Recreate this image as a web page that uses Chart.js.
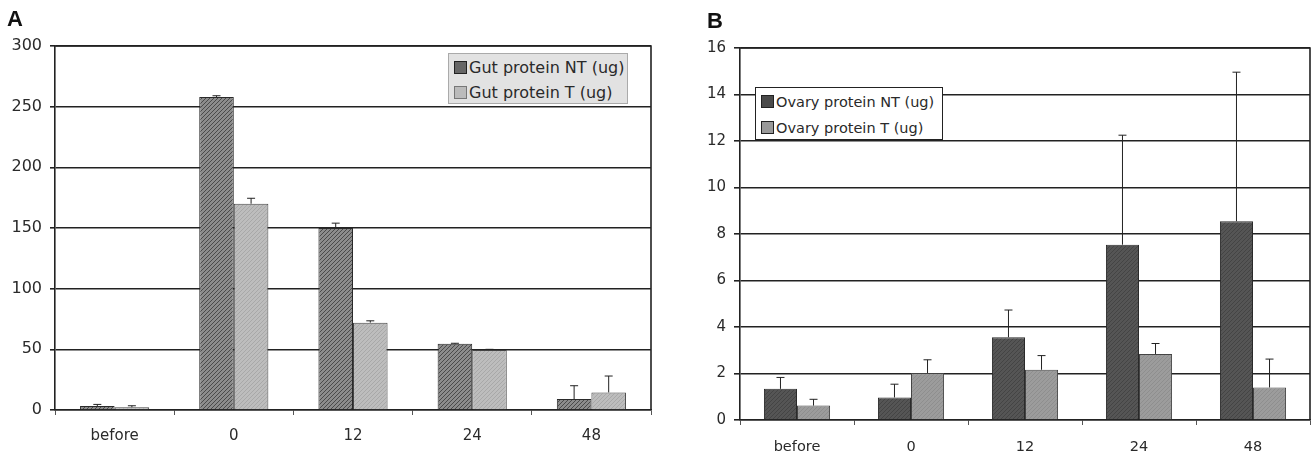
<!DOCTYPE html>
<html>
<head>
<meta charset="utf-8">
<script src="https://cdn.jsdelivr.net/npm/chart.js"></script>
<style>
  body { margin: 0; background: #fff; width: 1316px; height: 456px; position: relative; overflow: hidden; font-family: "DejaVu Sans", sans-serif; }
  .panel { position: absolute; top: 0; height: 456px; }
  .letter { position: absolute; font: bold 22px "Liberation Sans", Arial, sans-serif; color: #111; }
  .legend { position: absolute; box-sizing: border-box; color: #2a2a2a; padding: 1px 0 0 5px; white-space: nowrap; }
  .legend span.box { display: inline-block; width: 11px; height: 11px; border: 1px solid #222; margin-right: 2px; vertical-align: -1px; }
</style>
</head>
<body>
<div class="panel" style="left:0;width:660px"><canvas id="chartA" width="660" height="456"></canvas></div>
<div class="panel" style="left:660px;width:656px"><canvas id="chartB" width="656" height="456"></canvas></div>

<div class="letter" style="left:7px;top:6px">A</div>
<div class="letter" style="left:707px;top:8px">B</div>

<div class="legend" style="left:448px;top:53px;width:180px;height:51px;font-size:16px;line-height:25px;background:#e2e2e2;border:1px solid #aaa">
  <div><span class="box" style="background:#666"></span>Gut protein NT (ug)</div>
  <div><span class="box" style="background:#bbb;border-color:#777"></span>Gut protein T (ug)</div>
</div>
<div class="legend" style="left:755px;top:87px;width:188px;height:53px;font-size:14.5px;line-height:26px;background:#fff;border:1.5px solid #222">
  <div><span class="box" style="background:#4a4a4a"></span>Ovary protein NT (ug)</div>
  <div><span class="box" style="background:#999"></span>Ovary protein T (ug)</div>
</div>

<script>
// categories (hours)
const categories = ['before', '0', '12', '24', '48'];

// panel A: gut protein
const gutNT = [3.3, 258, 150, 54.5, 9];
const gutNTErr = [1.3, 1, 4, 0.5, 11];
const gutT = [2.3, 170, 72, 49.5, 14.5];
const gutTErr = [1.2, 4.5, 1.5, 0.5, 13.5];
const gutTicks = [0, 50, 100, 150, 200, 250, 300];

// panel B: ovary protein
const ovaryNT = [1.34, 0.97, 3.56, 7.54, 8.55];
const ovaryNTErr = [0.49, 0.57, 1.17, 4.71, 6.41];
const ovaryT = [0.62, 2.02, 2.16, 2.84, 1.40];
const ovaryTErr = [0.27, 0.57, 0.61, 0.45, 1.22];
const ovaryTicks = [0, 2, 4, 6, 8, 10, 12, 14, 16];

function hatch(bg, fg) {
  const c = document.createElement('canvas');
  c.width = 4; c.height = 4;
  const g = c.getContext('2d');
  g.fillStyle = bg; g.fillRect(0, 0, 4, 4);
  g.strokeStyle = fg; g.lineWidth = 1;
  g.beginPath(); g.moveTo(0, 4); g.lineTo(4, 0); g.stroke();
  return g.createPattern(c, 'repeat');
}

// error bars drawn upward from the top of each bar
const errorBars = {
  id: 'errorBars',
  afterDatasetsDraw(chart, args, opts) {
    const ctx = chart.ctx;
    const y = chart.scales.y;
    ctx.save();
    ctx.strokeStyle = '#222';
    ctx.lineWidth = 1;
    chart.data.datasets.forEach((ds, i) => {
      const meta = chart.getDatasetMeta(i);
      const errs = opts.errors[i];
      meta.data.forEach((bar, j) => {
        const top = y.getPixelForValue(ds.data[j] + errs[j]);
        ctx.beginPath();
        ctx.moveTo(bar.x, bar.y);
        ctx.lineTo(bar.x, top);
        ctx.moveTo(bar.x - 4, top);
        ctx.lineTo(bar.x + 4, top);
        ctx.stroke();
      });
    });
    ctx.restore();
  }
};

// box around the plot area (top and right sides)
const frame = {
  id: 'frame',
  afterDatasetsDraw(chart) {
    const a = chart.chartArea;
    const ctx = chart.ctx;
    ctx.save();
    ctx.strokeStyle = '#222';
    ctx.lineWidth = 1.6;
    ctx.beginPath();
    ctx.moveTo(a.left, a.top);
    ctx.lineTo(a.right, a.top);
    ctx.lineTo(a.right, a.bottom);
    ctx.stroke();
    ctx.restore();
  }
};

function makeChart(canvas, cfg) {
  return new Chart(canvas, {
    type: 'bar',
    data: {
      labels: categories,
      datasets: [
        { label: cfg.names[0], data: cfg.series[0], backgroundColor: cfg.fills[0], borderColor: '#2a2a2a', borderWidth: 1 },
        { label: cfg.names[1], data: cfg.series[1], backgroundColor: cfg.fills[1], borderColor: '#444', borderWidth: 1 }
      ]
    },
    options: {
      responsive: false,
      animation: false,
      devicePixelRatio: 1,
      categoryPercentage: 0.58,
      barPercentage: 1.0,
      layout: { padding: cfg.padding },
      plugins: {
        legend: { display: false },
        tooltip: { enabled: false },
        errorBars: { errors: cfg.errors }
      },
      scales: {
        x: {
          grid: { drawOnChartArea: false, drawTicks: true, tickLength: 5, color: '#555', lineWidth: 1 },
          border: { display: true, color: '#222', width: 1.6 },
          ticks: { color: '#2a2a2a', font: { family: 'DejaVu Sans', size: cfg.xFont }, padding: cfg.xPad },
          afterFit: s => { s.height = cfg.xHeight; }
        },
        y: {
          min: 0,
          max: cfg.ticks[cfg.ticks.length - 1],
          afterBuildTicks: s => { s.ticks = cfg.ticks.map(v => ({ value: v })); },
          grid: { color: '#222', lineWidth: 1.6, tickLength: cfg.yTick },
          border: { display: true, color: '#222', width: 1.6 },
          ticks: { color: '#2a2a2a', font: { family: 'DejaVu Sans', size: cfg.yFont }, padding: 8 },
          afterFit: s => { s.width = cfg.yWidth; }
        }
      }
    },
    plugins: [errorBars, frame]
  });
}

makeChart(document.getElementById('chartA'), {
  names: ['Gut protein NT (ug)', 'Gut protein T (ug)'],
  series: [gutNT, gutT],
  errors: [gutNTErr, gutTErr],
  fills: [hatch('#8c8c8c', '#4a4a4a'), hatch('#bdbdbd', '#a8a8a8')],
  ticks: gutTicks,
  padding: { top: 46, right: 9, left: 0, bottom: 0 },
  yWidth: 55,
  yTick: 5,
  yFont: 16,
  xFont: 15,
  xHeight: 46,
  xPad: 12
});

makeChart(document.getElementById('chartB'), {
  names: ['Ovary protein NT (ug)', 'Ovary protein T (ug)'],
  series: [ovaryNT, ovaryT],
  errors: [ovaryNTErr, ovaryTErr],
  fills: [hatch('#555555', '#444444'), hatch('#9c9c9c', '#8e8e8e')],
  ticks: ovaryTicks,
  padding: { top: 48, right: 6, left: 0, bottom: 0 },
  yWidth: 80,
  yTick: 6,
  yFont: 15,
  xFont: 14.5,
  xHeight: 36,
  xPad: 14
});
</script>
</body>
</html>
